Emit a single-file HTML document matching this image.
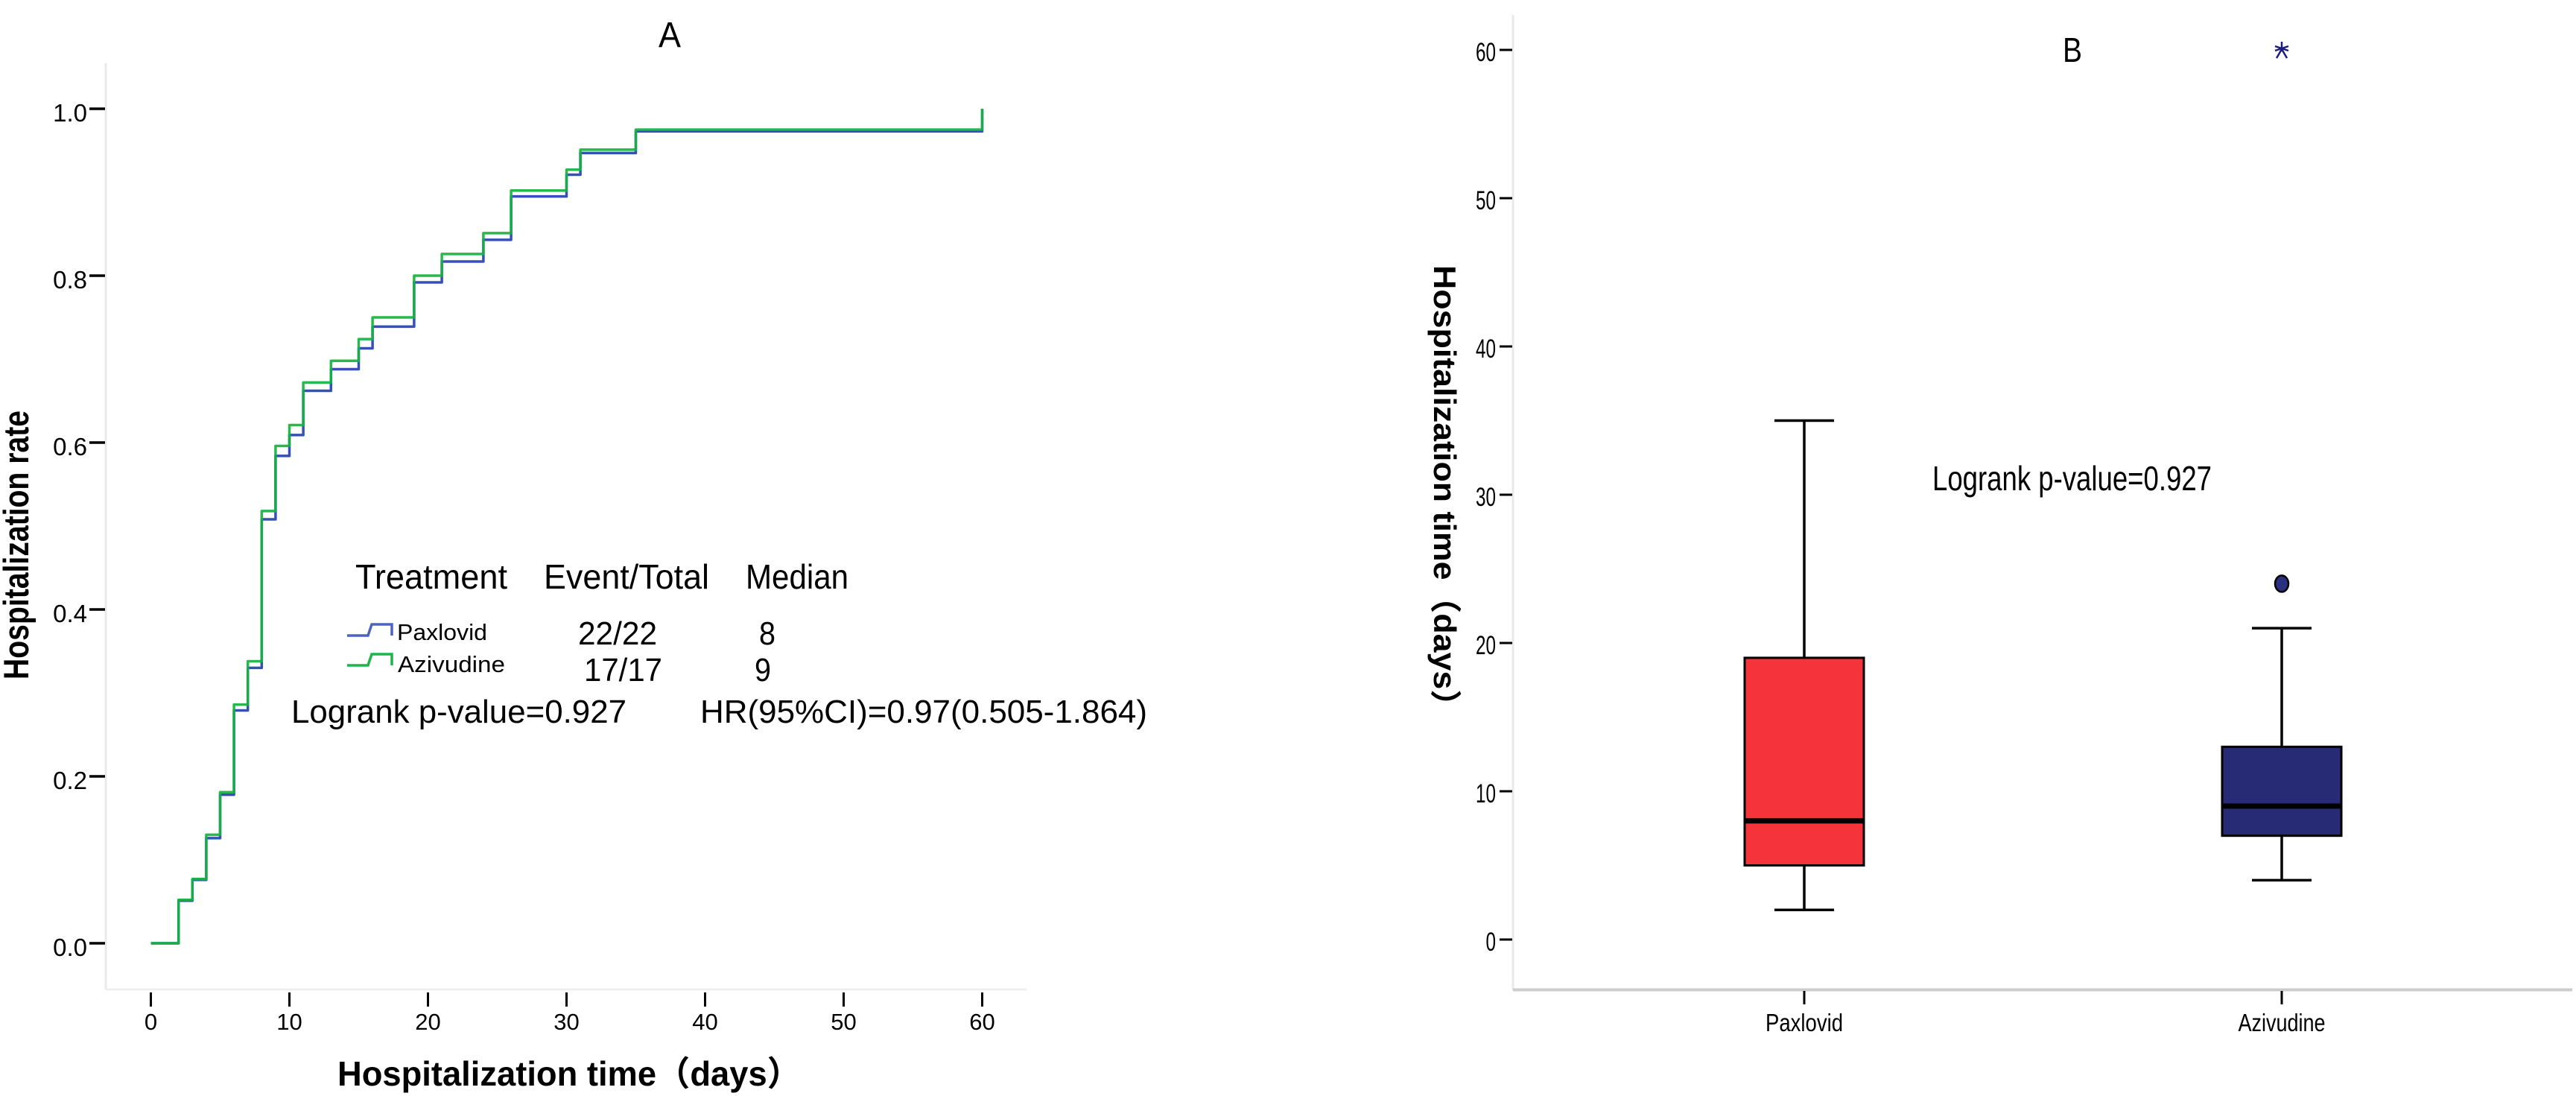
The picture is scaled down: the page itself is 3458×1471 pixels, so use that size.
<!DOCTYPE html>
<html lang="en">
<head>
<meta charset="utf-8">
<title>Hospitalization rate and time: Paxlovid vs Azivudine</title>
<style>
html,body{margin:0;padding:0;background:#fff}
svg{display:block}
text{font-family:"Liberation Sans","Noto Sans CJK SC",sans-serif;fill:#000}
</style>
</head>
<body>
<svg id="figure" xmlns="http://www.w3.org/2000/svg" width="3458" height="1471" viewBox="0 0 3458 1471">
  <rect width="3458" height="1471" fill="#fff"/>
  <g id="panelA">
    <text x="884" y="63" font-size="48" textLength="30" lengthAdjust="spacingAndGlyphs">A</text>
    <line x1="142" y1="85" x2="142" y2="1328" stroke="#e9e9e9" stroke-width="3"/>
    <line x1="142" y1="1328" x2="1378" y2="1328" stroke="#efefef" stroke-width="3"/>
    <text transform="translate(38 912) rotate(-90)" font-size="47" font-weight="700" textLength="361" lengthAdjust="spacingAndGlyphs">Hospitalization rate</text>
    <text x="453" y="1457" font-size="46" font-weight="700" textLength="622" lengthAdjust="spacingAndGlyphs">Hospitalization time（days）</text>
    <g id="panelAAxes"></g>
    <g id="panelACurves"></g>
    <g>
      <text x="477" y="790" font-size="46" textLength="204" lengthAdjust="spacingAndGlyphs">Treatment</text>
      <text x="730" y="790" font-size="46" textLength="222" lengthAdjust="spacingAndGlyphs">Event/Total</text>
      <text x="1001" y="790" font-size="46" textLength="138" lengthAdjust="spacingAndGlyphs">Median</text>
      <path d="M466 853H494L499 838H526V853" fill="none" stroke="#4c64bd" stroke-width="3.5"/>
      <text x="533" y="859" font-size="31" textLength="121" lengthAdjust="spacingAndGlyphs">Paxlovid</text>
      <text x="776" y="865" font-size="44" textLength="106" lengthAdjust="spacingAndGlyphs">22/22</text>
      <text x="1019" y="865" font-size="44" textLength="22" lengthAdjust="spacingAndGlyphs">8</text>
      <path d="M466 893H494L499 878H526V893" fill="none" stroke="#1fb34a" stroke-width="3.5"/>
      <text x="534" y="902" font-size="31" textLength="144" lengthAdjust="spacingAndGlyphs">Azivudine</text>
      <text x="784" y="914" font-size="44" textLength="105" lengthAdjust="spacingAndGlyphs">17/17</text>
      <text x="1013" y="914" font-size="44" textLength="22" lengthAdjust="spacingAndGlyphs">9</text>
      <text x="391" y="970" font-size="44" textLength="450" lengthAdjust="spacingAndGlyphs">Logrank p-value=0.927</text>
      <text x="940" y="970" font-size="44" textLength="600" lengthAdjust="spacingAndGlyphs">HR(95%CI)=0.97(0.505-1.864)</text>
    </g>
  </g>
  <g id="panelB">
    <text x="2769" y="83" font-size="46" textLength="26" lengthAdjust="spacingAndGlyphs">B</text>
    <line x1="2031" y1="20" x2="2031" y2="1329" stroke="#e9e9e9" stroke-width="3"/>
    <line x1="2031" y1="1328.5" x2="3453" y2="1328.5" stroke="#cccccc" stroke-width="4"/>
    <text transform="translate(1925 356) rotate(90)" font-size="42" font-weight="700" textLength="614" lengthAdjust="spacingAndGlyphs">Hospitalization time（days）</text>
    <text x="2594" y="658" font-size="46" textLength="375" lengthAdjust="spacingAndGlyphs">Logrank p-value=0.927</text>
    <g id="panelBAxes"></g>
    <g id="panelBBoxes"></g>
  </g>
</svg>
<script>
// Panel A data
const kmDays = [2, 3, 4, 5, 6, 7, 8, 9, 10, 11, 13, 15, 16, 19, 21, 24, 26, 30, 31, 35, 60];
const paxlovidRate = [0.051, 0.076, 0.126, 0.178, 0.279, 0.330, 0.508, 0.584, 0.609, 0.662, 0.688, 0.713, 0.739, 0.792, 0.817, 0.843, 0.895, 0.921, 0.947, 0.973, 1.0];
const azivudineRate = [0.052, 0.077, 0.130, 0.181, 0.286, 0.338, 0.518, 0.596, 0.621, 0.672, 0.698, 0.724, 0.750, 0.800, 0.826, 0.851, 0.902, 0.927, 0.951, 0.975, 1.0];
const kmYTicks = [0.0, 0.2, 0.4, 0.6, 0.8, 1.0];
const kmXTicks = [0, 10, 20, 30, 40, 50, 60];

// Panel B data
const boxCategories = ['Paxlovid', 'Azivudine'];
const boxWhiskerLow = [2, 4];
const boxQ1 = [5, 7];
const boxMedian = [8, 9];
const boxQ3 = [19, 13];
const boxWhiskerHigh = [35, 21];
const azivudineOutlier = 24;
const azivudineExtreme = 60;
const boxYTicks = [0, 10, 20, 30, 40, 50, 60];

const NS = 'http://www.w3.org/2000/svg';
const kmX = d => 202.5 + d * 18.6;
const kmY = r => 1266 - r * 1120;
const boxY = v => 1261 - v * 19.9;
const boxCenter = i => 2422 + i * 641;

function make(parent, tag, props, content) {
  const el = document.createElementNS(NS, tag);
  for (const k in props) el.setAttribute(k, props[k]);
  if (content !== undefined) el.textContent = content;
  parent.appendChild(el);
  return el;
}

const axesA = document.getElementById('panelAAxes');
kmYTicks.forEach(t => {
  const tick = make(axesA, 'line', {x1: 120, x2: 141, y1: kmY(t), y2: kmY(t), stroke: '#000', 'stroke-width': 3.5});
  
  
  const label = make(axesA, 'text', {x: 117, y: kmY(t) + 17, 'font-size': 33, 'text-anchor': 'end'}, t.toFixed(1));
  
  
});
kmXTicks.forEach(t => {
  const tick = make(axesA, 'line', {x1: kmX(t), x2: kmX(t), y1: 1332, y2: 1351, stroke: '#000', 'stroke-width': 3});
  
  
  const label = make(axesA, 'text', {x: kmX(t), y: 1382, 'font-size': 31, 'text-anchor': 'middle'}, String(t));
  
  
});

function stepPath(days, rates) {
  let d = 'M' + kmX(0) + ' ' + kmY(0);
  let prev = 0;
  days.forEach((day, i) => {
    d += 'L' + kmX(day) + ' ' + kmY(prev) + 'L' + kmX(day) + ' ' + kmY(rates[i]);
    prev = rates[i];
  });
  return d;
}
const curves = document.getElementById('panelACurves');
const paxCurve = make(curves, 'path', {d: stepPath(kmDays, paxlovidRate), fill: 'none', stroke: '#3550b8', 'stroke-width': 3.5, 'stroke-linejoin': 'round'});


const aziCurve = make(curves, 'path', {d: stepPath(kmDays, azivudineRate), fill: 'none', stroke: '#16b33f', 'stroke-width': 3.5, 'stroke-linejoin': 'round', 'stroke-opacity': 0.92});



const axesB = document.getElementById('panelBAxes');
boxYTicks.forEach(t => {
  const tick = make(axesB, 'line', {x1: 2013, x2: 2030, y1: boxY(t), y2: boxY(t), stroke: '#000', 'stroke-width': 3});
  
  
  const s = String(t);
  const label = make(axesB, 'text', {x: 2008, y: boxY(t) + 15, 'font-size': 35, 'text-anchor': 'end', textLength: s.length * 13.5, lengthAdjust: 'spacingAndGlyphs'}, s);
  
  
});
boxCategories.forEach((c, i) => {
  const tick = make(axesB, 'line', {x1: boxCenter(i), x2: boxCenter(i), y1: 1330, y2: 1348, stroke: '#000', 'stroke-width': 3});
  
  
  const label = make(axesB, 'text', {x: boxCenter(i), y: 1384, 'font-size': 33, 'text-anchor': 'middle', textLength: c.length * 13, lengthAdjust: 'spacingAndGlyphs'}, c);
  
  
});

const boxFills = ['#f4333a', '#272a74'];
const boxes = document.getElementById('panelBBoxes');
boxCategories.forEach((c, i) => {
  const cx = boxCenter(i);
  const stem = make(boxes, 'path', {d: 'M' + (cx - 40) + ' ' + boxY(boxWhiskerHigh[i]) + 'H' + (cx + 40) + 'M' + cx + ' ' + boxY(boxWhiskerHigh[i]) + 'V' + boxY(boxWhiskerLow[i]) + 'M' + (cx - 40) + ' ' + boxY(boxWhiskerLow[i]) + 'H' + (cx + 40), fill: 'none', stroke: '#000', 'stroke-width': 3.5});
  
  
  const rect = make(boxes, 'rect', {x: cx - 80, width: 160, y: boxY(boxQ3[i]), height: boxY(boxQ1[i]) - boxY(boxQ3[i]), fill: boxFills[i], stroke: '#000', 'stroke-width': 3});
  
  
  const med = make(boxes, 'line', {x1: cx - 80, x2: cx + 80, y1: boxY(boxMedian[i]), y2: boxY(boxMedian[i]), stroke: '#000', 'stroke-width': 7});
  
  
});
const outlier = make(boxes, 'ellipse', {cx: boxCenter(1), cy: boxY(azivudineOutlier), rx: 9, ry: 11, fill: '#2a3080', stroke: '#000', 'stroke-width': 2.5});


const sx = boxCenter(1), sy = boxY(azivudineExtreme);
const star = make(boxes, 'path', {d: 'M' + sx + ' ' + (sy - 11) + 'V' + (sy + 2) + 'M' + (sx - 9) + ' ' + (sy - 5) + 'L' + (sx + 9) + ' ' + (sy + 1) + 'M' + (sx + 9) + ' ' + (sy - 5) + 'L' + (sx - 9) + ' ' + (sy + 1) + 'M' + sx + ' ' + (sy - 1) + 'L' + (sx - 7) + ' ' + (sy + 11) + 'M' + sx + ' ' + (sy - 1) + 'L' + (sx + 7) + ' ' + (sy + 11), fill: 'none', stroke: '#1c1c7c', 'stroke-width': 2.5});


</script>
</body>
</html>
